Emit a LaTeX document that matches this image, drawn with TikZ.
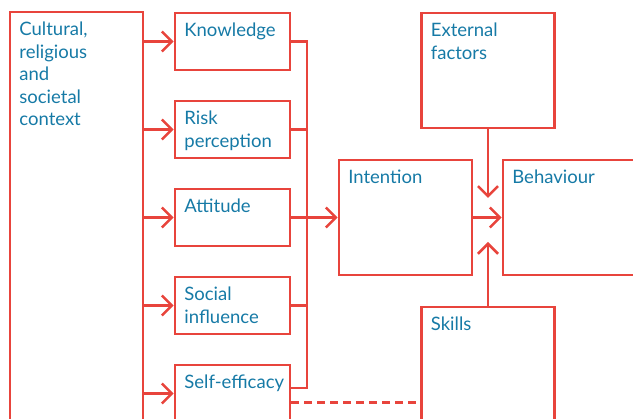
\documentclass[tikz,border=0pt]{standalone}
\usepackage{fontspec}
\setmainfont{Lato}
\usetikzlibrary{positioning, arrows.meta}

\definecolor{linered}{RGB}{232,68,60}
\definecolor{textblue}{RGB}{22,122,166}

\begin{document}
\begin{tikzpicture}[x=1pt, y=-1pt, node distance=88pt, on grid,
    link/.style={draw=linered, line width=2.6pt},
    arrow/.style={link, -{Straight Barb[length=10pt, width=20pt]}},
    boxtext/.style={anchor=north west, inner xsep=10.5pt, inner ysep=11pt, text=textblue,
        align=left, font=\fontsize{18.5}{22.5}\selectfont},
    factor/.style={link, minimum width=115pt, minimum height=57pt, label={[boxtext]north west:#1}},
    stage/.style={link, minimum width=133pt, minimum height=115pt, label={[boxtext]north west:#1}}]
    \clip (0,0) rectangle (633,419);
    % boxes
    \node[stage={Cultural,\\religious\\and\\societal\\context}, minimum height=450pt] (ctx) at (76.5,237) {};
    \node[factor=Knowledge] (know) at (232.5,41.5) {};
    \node[factor={Risk\\perception}] (risk) [below=of know] {};
    \node[factor=Attitude] (att) [below=of risk] {};
    \node[factor={Social\\influence}] (soc) [below=of att] {};
    \node[factor=Self-efficacy] (self) [below=of soc] {};
    \node[stage=Intention] (int) at (405.5,217.5) {};
    \node[stage=Behaviour] (beh) [right=164pt of int] {};
    \node[stage={External\\factors}] (ext) at (488,70.5) {};
    \node[stage=Skills] (skills) at (488,364.5) {};
    % connectors
    \foreach \n in {know,risk,att,soc,self}
        \draw[arrow] (ctx.east |- \n.west) -- (\n.west);
    \coordinate (bus) at (307,0);
    \coordinate (selfout) at ([yshift=5.5pt]self.east);
    \draw[link] (know.east) -| (selfout -| bus) -- (selfout);
    \foreach \n in {risk,att,soc}
        \draw[link] (\n.east) -- (\n.east -| bus);
    \draw[arrow] (att.east -| bus) -- (int.west);
    \draw[arrow] (int.east) -- (beh.west);
    \coordinate (extend) at (488,198);
    \coordinate (skillend) at (488,242);
    \draw[arrow] (ext.south) -- (extend);
    \draw[arrow] (skills.north) -- (skillend);
    \coordinate (dashout) at ([yshift=-9pt]self.east);
    \draw[link, dash pattern=on 8pt off 5pt] (dashout) -- (dashout -| skills.west);
\end{tikzpicture}
\end{document}
